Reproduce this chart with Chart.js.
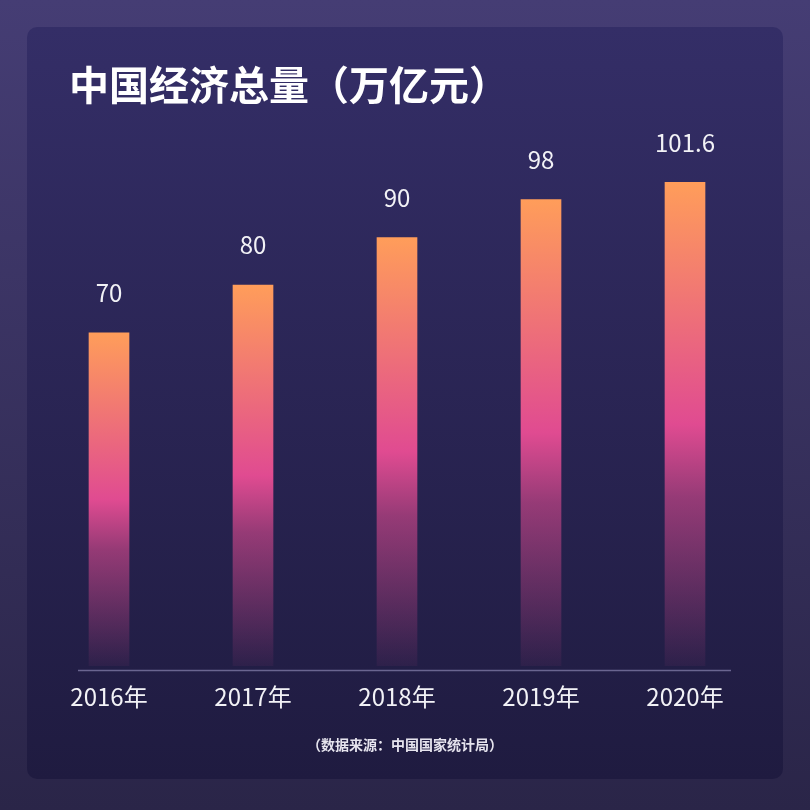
<!DOCTYPE html>
<html lang="zh-CN">
<head>
    <meta charset="UTF-8">
    <title>中国经济总量</title>
    <script src="https://cdn.jsdelivr.net/npm/chart.js"></script>
    <style>
        html, body {
            margin: 0;
            padding: 0;
            background-color: #2b2649;
        }
        #wrap {
            width: 810px;
            height: 810px;
        }
    </style>
</head>
<body>

<div id="wrap">
    <canvas id="gdpChart" width="810" height="810"></canvas>
</div>

<script>
    const anos = ['2016年', '2017年', '2018年', '2019年', '2020年'];
    const valores = [70, 80, 90, 98, 101.6];
    const rotulos = ['70', '80', '90', '98', '101.6'];
    const titulo = '中国经济总量（万亿元）';
    const fonte = '（数据来源：中国国家统计局）';

    const FONT = '"Noto Sans CJK SC", "Noto Sans", sans-serif';

    // fundo + cartão
    const fundoPlugin = {
        id: 'fundo',
        beforeDraw(chart) {
            const ctx = chart.ctx;
            const w = chart.width, h = chart.height;
            ctx.save();
            let g = ctx.createLinearGradient(0, 0, 0, h);
            g.addColorStop(0, '#453d74');
            g.addColorStop(1, '#2a2548');
            ctx.fillStyle = g;
            ctx.fillRect(0, 0, w, h);

            g = ctx.createLinearGradient(0, 27, 0, 779);
            g.addColorStop(0, '#342e67');
            g.addColorStop(1, '#1f1b40');
            ctx.fillStyle = g;
            ctx.beginPath();
            ctx.roundRect(27, 27, 756, 752, 10);
            ctx.fill();

            ctx.fillStyle = '#ffffff';
            ctx.font = 'bold 40px ' + FONT;
            ctx.textBaseline = 'middle';
            ctx.textAlign = 'left';
            ctx.fillText(titulo, 69, 85);

            ctx.fillStyle = '#e6e4ee';
            ctx.font = 'bold 14px ' + FONT;
            ctx.textAlign = 'center';
            ctx.fillText(fonte, 405, 745);
            ctx.restore();
        },
        afterDatasetsDraw(chart) {
            const ctx = chart.ctx;
            const meta = chart.getDatasetMeta(0);
            ctx.save();
            // linha do eixo
            ctx.strokeStyle = '#6a6590';
            ctx.lineWidth = 1.5;
            ctx.beginPath();
            ctx.moveTo(78, 670.5);
            ctx.lineTo(731, 670.5);
            ctx.stroke();

            ctx.fillStyle = '#f2f2f6';
            ctx.font = '24px ' + FONT;
            ctx.textAlign = 'center';
            ctx.textBaseline = 'middle';
            meta.data.forEach((bar, i) => {
                ctx.fillText(rotulos[i], bar.x, bar.y - 40);
            });
            ctx.restore();
        }
    };

    function gradienteBarra(context) {
        const chart = context.chart;
        if (!chart.chartArea || !chart.scales.y) return '#e04b91';
        const y = chart.scales.y;
        const topo = y.getPixelForValue(context.raw);
        const base = y.getPixelForValue(0);
        const g = chart.ctx.createLinearGradient(0, topo, 0, base);
        g.addColorStop(0, '#ff9d5a');
        g.addColorStop(0.5, '#e04b91');
        g.addColorStop(0.65, 'rgba(224, 75, 145, 0.6)');
        g.addColorStop(1, 'rgba(224, 75, 145, 0.06)');
        return g;
    }

    new Chart(document.getElementById('gdpChart'), {
        type: 'bar',
        data: {
            labels: anos,
            datasets: [{
                data: valores,
                backgroundColor: gradienteBarra,
                borderWidth: 0,
                barThickness: 40
            }]
        },
        options: {
            responsive: false,
            animation: false,
            layout: {
                padding: { top: 142.4, left: 37, right: 53, bottom: 84 }
            },
            plugins: {
                legend: { display: false },
                tooltip: { enabled: false }
            },
            scales: {
                x: {
                    grid: { display: false, drawTicks: false },
                    border: { display: false },
                    ticks: {
                        color: '#f2f2f6',
                        font: { family: FONT, size: 24 },
                        padding: 16
                    },
                    afterFit(scale) { scale.height = 60; }
                },
                y: {
                    display: false,
                    min: 0,
                    max: 110
                }
            }
        },
        plugins: [fundoPlugin]
    });
</script>

</body>
</html>
